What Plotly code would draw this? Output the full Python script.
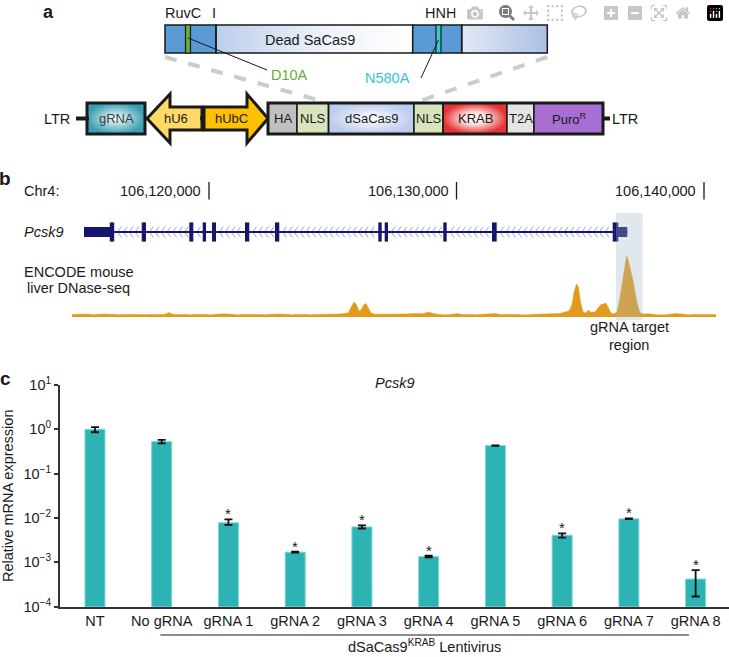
import numpy as np
import plotly.graph_objects as go

W, H = 729, 657
FONT = "Liberation Sans, Arial, Helvetica, sans-serif"
INK = "#1a1a1a"

# ---------------- Panel c data ----------------
categories = ["NT", "No gRNA", "gRNA 1", "gRNA 2", "gRNA 3", "gRNA 4",
              "gRNA 5", "gRNA 6", "gRNA 7", "gRNA 8"]
expression = [1.0, 0.53, 0.0078, 0.0017, 0.0063, 0.00135, 0.43, 0.0041, 0.0096, 0.00042]
err_upper = [0.12, 0.05, 0.0015, 0.00005, 0.0005, 0.00006, 0.005, 0.0004, 0.0002, 0.00025]
err_lower = [0.14, 0.05, 0.0008, 0.00005, 0.0005, 0.00006, 0.005, 0.0005, 0.0002, 0.00025]
significant = [False, False, True, True, True, True, False, True, True, True]
y_tick_exponents = [1, 0, -1, -2, -3, -4]
bracket_from, bracket_to = "No gRNA", "gRNA 8"

# ---------------- Panel b data ----------------
chrom_label = "Chr4:"
genome_ticks = [106120000, 106130000, 106140000]
utr_blocks = [(106114950, 106116000), (106136525, 106136900)]
exon_blocks = [(106115990, 106116170), (106117281, 106117455), (106119204, 106119366),
               (106119745, 106119879), (106120121, 106120283), (106121454, 106121628),
               (106122667, 106122840), (106126840, 106126977), (106127099, 106127232),
               (106129466, 106129604), (106131434, 106131624), (106136311, 106136537)]
target_region = (106136444, 106137522)
dnase_pos = [
    106114470, 106114900, 106115270, None,
    106115394, 106115800, 106116243, None,
    106116364, 106116800, 106117293, None,
    106117455, 106118200, 106118380, 106118500, 106118626, None,
    106118748, 106119152, None,
    106119313, 106119960, None,
    106120162, 106120600, 106121050, None,
    106121252, 106122141, None,
    106122303, 106122800, 106123272, None,
    106123434, 106124000, None,
    106124202, 106124888, 106125292, 106125616, 106125737, 106125858, 106125939, 106126060,
    106126141, 106126262, 106126343, 106126424, 106126545, 106126706, 106127514, 106127918,
    106128323, 106128605, 106128888, 106129050, 106129373, None,
    106129736, 106130060, 106130200, 106130746, None,
    106130908, 106131595, 106131757, 106132565, None,
    106132969, 106133979, 106134181, 106134383, 106134545, 106134666, 106134747, 106134848,
    106134929, 106135010, 106135111, 106135232, 106135333, 106135434, 106135595, 106135717,
    106135838, 106135939, 106136040, 106136141, 106136242, 106136363, 106136484, 106136585,
    106136666, 106136747, 106136807, 106136868, 106136929, 106136989, 106137070, 106137151,
    106137232, 106137313, 106137414, 106137575, 106137736, 106138018, None,
    106138503, 106138867, 106139311, None,
    106139514, 106140484]
dnase_signal = [
    2.5, 3.0, 2.5, None,
    2.5, 3.0, 2.5, None,
    2.5, 2.8, 2.5, None,
    2.5, 2.6, 4.5, 3.0, 2.5, None,
    2.5, 2.5, None,
    2.5, 2.5, None,
    2.5, 3.2, 2.5, None,
    2.5, 2.5, None,
    2.5, 3.0, 2.5, None,
    2.5, 2.5, None,
    2.5, 3.0, 3.0, 4.0, 10, 15, 13, 6,
    7, 12.5, 13.5, 10, 4, 2.8, 2.5, 3.0,
    3.5, 3.2, 5.0, 3.5, 2.5, None,
    2.5, 3.5, 2.5, 2.5, None,
    2.5, 3.5, 2.5, 2.5, None,
    2.5, 2.8, 3.5, 5, 6, 12, 25, 33,
    30, 15, 5, 4, 7, 4.5, 5, 9,
    12.5, 13, 14, 9, 4, 3, 5, 16,
    30, 45, 54, 61, 58, 52, 44, 34,
    22, 12, 4, 3, 3.2, 2.5, None,
    2.5, 3.5, 2.5, None,
    2.5, 2.5]

# ---------------- Panel a schematic (element names / extents in schematic units) ----------------
top_bar = [  # (x0, x1, kind)
    (165, 216, "blue"), (216, 412.7, "fadeL"), (412.7, 461.7, "blue"), (461.7, 547.3, "fadeR")]
mutations = [("D10A", 185.5, 190.5, "#6aaa3a"), ("N580A", 436.0, 441.0, "#33cccc")]
construct = [  # (label, x0, x1, fill or gradient)
    ("HA", 268, 297, "#c0c0c0"), ("NLS", 297, 328.5, "#d7e4bc"),
    ("dSaCas9", 328.5, 414, "grad_blue"), ("NLS", 414, 443, "#d7e4bc"),
    ("KRAB", 443, 507, "grad_red"), ("T2A", 507, 534, "#e4e4e4"),
    ("Puro<sup>R</sup>", 534, 603, "#a66fd1")]


def py(p):
    return 1 - p / H


def px(p):
    return p / W


BP_PER_PX = 10000 / 247.5
G_LEFT = genome_ticks[0] - 209 * BP_PER_PX
G_RIGHT = genome_ticks[0] + (W - 209) * BP_PER_PX

fig = go.Figure()
shapes = []
ann = []


def text(x, y, s, size=14.5, color=INK, xanchor="center", xref="x3", yref="y4",
         yanchor="middle", weight="normal", style="normal", **kw):
    ann.append(dict(x=x, y=y, xref=xref, yref=yref, text=s, showarrow=False,
                    xanchor=xanchor, yanchor=yanchor,
                    font=dict(family=FONT, size=size, color=color, weight=weight, style=style),
                    **kw))


# ================= Panel c =================
fig.add_trace(go.Bar(
    x=categories, y=expression, width=0.3,
    marker=dict(color="#2db3b3", line=dict(color="#7fd6d6", width=1)),
    error_y=dict(type="data", array=err_upper, arrayminus=err_lower,
                 color="#111111", thickness=1.8, width=4),
    xaxis="x", yaxis="y", showlegend=False, hoverinfo="skip"))

for c, v, e, s in zip(categories, expression, err_upper, significant):
    if s:
        text(c, np.log10(v + e), "*", size=15, xref="x", yref="y", yanchor="bottom", yshift=-5)

i0, i1 = categories.index(bracket_from), categories.index(bracket_to)
shapes.append(dict(type="line", xref="x", yref="paper", x0=i0 - 0.02, x1=i1 - 0.1,
                   y0=py(635), y1=py(635), line=dict(color=INK, width=1.2)))
text((i0 + i1 - 0.12) / 2, 0, "dSaCas9<sup>KRAB</sup> Lentivirus", xref="x", yref="paper",
     yanchor="bottom")
text((len(categories) - 1) / 2, py(383), "Pcsk9", xref="x", yref="paper", style="italic")
text(px(8), py(496), "Relative mRNA expression", xref="paper", yref="paper", textangle=-90)

# ================= Panel b =================
all_blocks = sorted(utr_blocks + exon_blocks)
gene_start, gene_end = all_blocks[0][0], max(b[1] for b in all_blocks)
cx, cy = [], []
ends = all_blocks[0][1]
for (a, b) in all_blocks[1:]:
    if a - ends > 300:
        for t in np.arange(ends + 140, a - 90, 236):
            cx += [t + 150, t, t + 150, None]
            cy += [0.27, 0, -0.27, None]
    ends = max(ends, b)
fig.add_trace(go.Scatter(x=cx, y=cy, mode="lines", line=dict(color="#a3a3dd", width=1),
                         xaxis="x2", yaxis="y3", showlegend=False, hoverinfo="skip"))
shapes.append(dict(type="line", xref="x2", yref="y3", x0=gene_start, x1=gene_end, y0=0, y1=0,
                   line=dict(color="#16166e", width=2)))
for (a, b) in utr_blocks:
    shapes.append(dict(type="rect", xref="x2", yref="y3", x0=a, x1=b, y0=-0.25, y1=0.25,
                       fillcolor="#16166e", line=dict(width=0)))
for (a, b) in exon_blocks:
    shapes.append(dict(type="rect", xref="x2", yref="y3", x0=a, x1=b, y0=-0.48, y1=0.48,
                       fillcolor="#16166e", line=dict(width=0)))

fig.add_trace(go.Scatter(x=dnase_pos, y=dnase_signal, mode="lines", fill="tozeroy",
                         connectgaps=False, line=dict(color="#e39a1a", width=0.5),
                         fillcolor="#e39a1a", xaxis="x2", yaxis="y2",
                         showlegend=False, hoverinfo="skip"))
shapes.append(dict(type="rect", xref="x2", yref="paper", x0=target_region[0], x1=target_region[1],
                   y0=py(320), y1=py(213), fillcolor="rgba(160,185,200,0.32)",
                   line=dict(width=0), layer="above"))
text(sum(target_region) / 2, py(327), "gRNA target", xref="x2", yref="paper")
text(sum(target_region) / 2, py(345), "region", xref="x2", yref="paper")
for g in genome_ticks:
    shapes.append(dict(type="line", xref="x2", yref="paper", x0=g, x1=g, y0=py(199.5), y1=py(182),
                       line=dict(color=INK, width=1.3)))
    text(g, py(191.5), f"{g:,}", xanchor="right", xshift=-6, xref="x2", yref="paper")
text(px(22), py(191.5), chrom_label, xanchor="left", xref="paper", yref="paper")
text(px(22), py(232), "Pcsk9", xanchor="left", xref="paper", yref="paper", style="italic")
text(px(22), py(272), "ENCODE mouse", xanchor="left", xref="paper", yref="paper")
text(px(25), py(288), "liver DNase-seq", xanchor="left", xref="paper", yref="paper")

# ================= Panel a =================
def box_trace(x0, x1, y0, y1, scale, gtype):
    fig.add_trace(go.Scatter(x=[x0, x1, x1, x0, x0], y=[y0, y0, y1, y1, y0], mode="lines",
                             line=dict(width=0), fill="toself",
                             fillgradient=dict(type=gtype, colorscale=scale),
                             xaxis="x3", yaxis="y4", showlegend=False, hoverinfo="skip"))


def rect(x0, x1, y0, y1, fill="rgba(0,0,0,0)", lw=1.5, lc=INK, layer="above"):
    shapes.append(dict(type="rect", xref="x3", yref="y4", x0=x0, x1=x1, y0=y0, y1=y1,
                       fillcolor=fill, line=dict(color=lc, width=lw), layer=layer))


def seg(x0, y0, x1, y1, color=INK, width=1.2, dash=None, layer="above"):
    d = dict(color=color, width=width)
    if dash:
        d["dash"] = dash
    shapes.append(dict(type="line", xref="x3", yref="y4", x0=x0, y0=y0, x1=x1, y1=y1,
                       line=d, layer=layer))


TB0, TB1 = 25, 53
seg(top_bar[0][0], 57, construct[2][1], 103, color="#cccccc", width=4, dash="dash", layer="below")
seg(top_bar[-1][1], 57, construct[2][2], 103, color="#cccccc", width=4, dash="dash", layer="below")

for (x0, x1, kind) in top_bar:
    if kind == "blue":
        rect(x0, x1, TB0, TB1, fill="#5b9bd5", lw=1.5)
    elif kind == "fadeL":
        box_trace(x0, x1, TB0, TB1, [[0, "#bccfec"], [0.55, "#eef2fa"], [1, "#ffffff"]], "horizontal")
        rect(x0, x1, TB0, TB1, lw=1.5)
    else:
        box_trace(x0, x1, TB0, TB1, [[0, "#e2e9f6"], [1, "#aac0e4"]], "horizontal")
        rect(x0, x1, TB0, TB1, lw=1.5)
for (name, x0, x1, col) in mutations:
    rect(x0, x1, TB0, TB1, fill=col, lw=1.2)
text(310, 39.5, "Dead SaCas9")
text(182.5, 13, "RuvC")
text(214, 13, "I")
text(440.5, 13, "HNH")
seg(188, 38, 267, 70, width=1)
text(289.5, 75, "D10A", color="#6aaa3a")
seg(438.5, 40, 421, 78, width=1)
text(387, 78, "N580A", color="#33c6cc")

RB0, RB1, RC = 103, 134, 118.5
text(56.5, RC, "LTR")
seg(76, RC, 89, RC, width=4)
box_trace(87, 145, RB0, RB1, [[0, "#ffffff"], [1, "#3a9fb2"]], "radial")
rect(87, 145, RB0, RB1, lw=3)
text(116, RC, "gRNA", size=13, color="#3b3b3b")
shapes.append(dict(type="path", xref="x3", yref="y4",
                   path=f"M147,{RC} L170,94 L170,107 L202,107 L202,130 L170,130 L170,143 Z",
                   fillcolor="#ffd966", line=dict(color=INK, width=3)))
text(176, RC, "hU6", size=13)
seg(200, RC, 206, RC, width=4)
shapes.append(dict(type="path", xref="x3", yref="y4",
                   path=f"M204,107 L247,107 L247,94 L268,{RC} L247,143 L247,130 L204,130 Z",
                   fillcolor="#ffc000", line=dict(color=INK, width=3)))
text(231, RC, "hUbC", size=13)
for (label, x0, x1, fill) in construct:
    if fill == "grad_blue":
        box_trace(x0, x1, RB0, RB1, [[0, "#ffffff"], [1, "#bccced"]], "radial")
        rect(x0, x1, RB0, RB1, lw=1.5)
    elif fill == "grad_red":
        box_trace(x0, x1, RB0, RB1, [[0, "#ffffff"], [0.4, "#fbdada"], [1, "#e53333"]], "radial")
        rect(x0, x1, RB0, RB1, lw=1.5)
    else:
        rect(x0, x1, RB0, RB1, fill=fill, lw=1.5)
    text((x0 + x1) / 2, RC, label, size=13)
rect(construct[0][1], construct[-1][2], RB0, RB1, lw=3)
seg(construct[-1][2], RC, 610, RC, width=4)
text(624.5, RC, "LTR")

text(px(48), 1, "a", size=18, xref="paper", yref="paper", yanchor="top", weight="bold")
for (lx, ly, s) in [(5, 179, "b"), (5, 378, "c")]:
    text(px(lx), py(ly), s, size=19, xref="paper", yref="paper", weight="bold")

hidden = dict(visible=False, automargin=False)
fig.update_layout(
    template="none",
    width=W, height=H, margin=dict(l=0, r=0, t=0, b=0, pad=0, autoexpand=False), autosize=False,
    paper_bgcolor="white", plot_bgcolor="rgba(0,0,0,0)",
    font=dict(family=FONT, size=14.5, color=INK),
    shapes=shapes, annotations=ann, showlegend=False,
    xaxis=dict(domain=[px(60), 1], anchor="y", type="category",
               range=[-0.524, len(categories) - 0.5], automargin=False,
               showline=True, linecolor="#333333", linewidth=2, ticks="",
               showgrid=False, zeroline=False, tickfont=dict(family=FONT, size=14.5, color=INK)),
    yaxis=dict(domain=[py(606.7), py(385)], anchor="x", type="log", range=[-4, 1],
               automargin=False,
               showline=True, linecolor="#333333", linewidth=2, ticks="outside",
               ticklen=4, tickwidth=1.5, tickcolor="#333333",
               tickvals=[10.0 ** e for e in y_tick_exponents],
               ticktext=[f"10<sup>{str(e).replace('-', '−')}</sup>" for e in y_tick_exponents],
               showgrid=False, zeroline=False, tickfont=dict(family=FONT, size=14.5, color=INK)),
    xaxis2=dict(domain=[0, 1], anchor="y2", range=[G_LEFT, G_RIGHT], **hidden),
    yaxis2=dict(domain=[py(317), py(251)], anchor="x2", range=[0, 66], **hidden),
    yaxis3=dict(domain=[py(252), py(212)], anchor="x2", range=[-1, 1], **hidden),
    xaxis3=dict(domain=[0, 1], anchor="y4", range=[0, W], **hidden),
    yaxis4=dict(domain=[0, 1], anchor="x3", range=[H, 0], **hidden),
)

fig.write_html("out.html", post_script="document.body.style.margin='0';")
